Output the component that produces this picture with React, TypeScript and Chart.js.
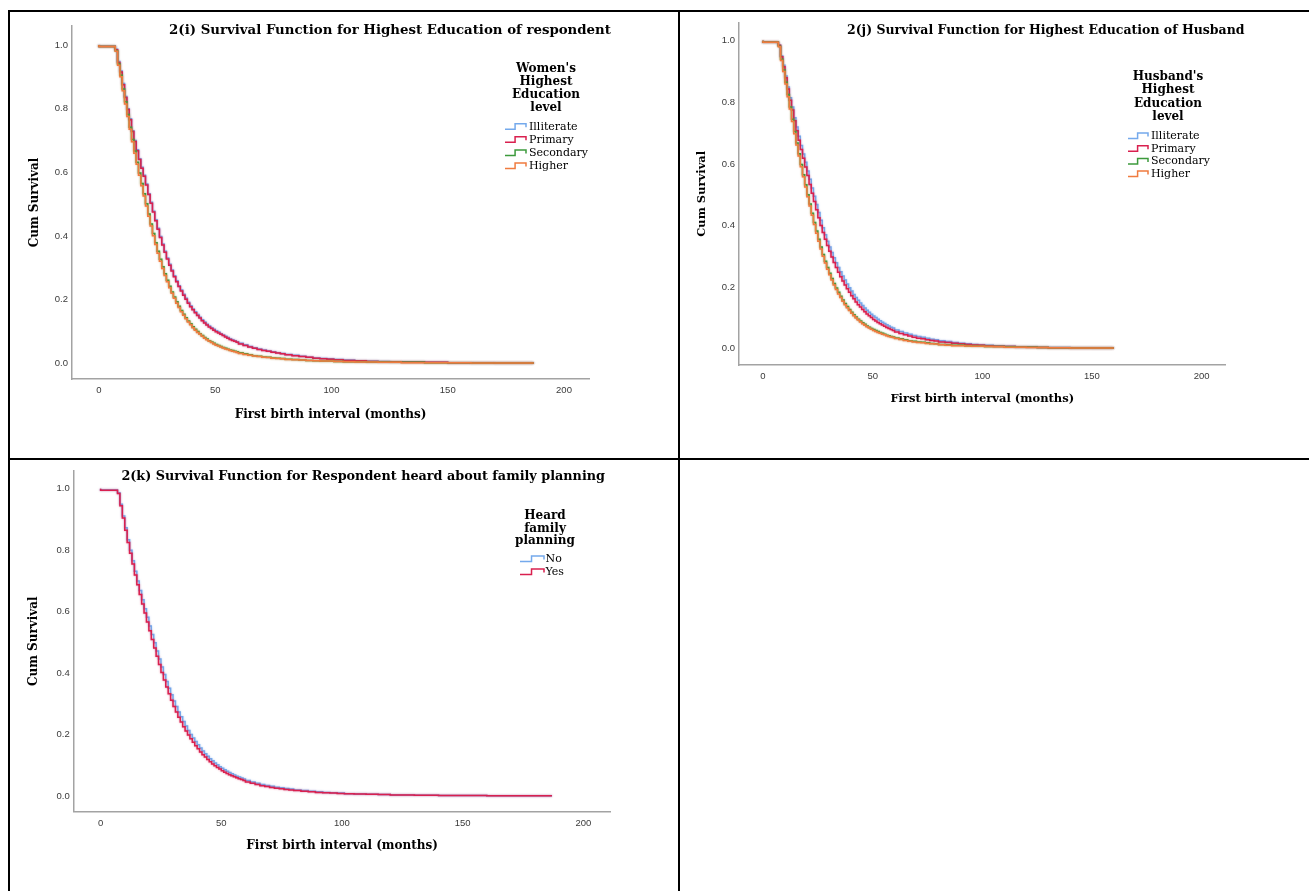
import React, { useEffect, useRef } from 'react';
import { Chart, registerables } from 'chart.js';

Chart.register(...registerables);

// ---------------- DATA ----------------
const X_TICKS = [0, 50, 100, 150, 200];
const Y_TICKS = [0, 0.2, 0.4, 0.6, 0.8, 1.0];

const X_TITLE = 'First birth interval (months)';
const Y_TITLE = 'Cum Survival';

const EDU_LEVELS = ['Illiterate', 'Primary', 'Secondary', 'Higher'];
const FP_LEVELS = ['No', 'Yes'];

// Event times (months) of the Kaplan-Meier steps
const MONTHS_A = [0, 7, 8, 9, 10, 11, 12, 13, 14, 15, 16, 17, 18, 19, 20, 21, 22, 23, 24, 25, 26, 27, 28, 29, 30,
  31, 32, 33, 34, 35, 36, 37, 38, 39, 40, 41, 42, 43, 44, 45, 46, 47, 48,
  49, 50, 51, 52, 53, 54, 55, 56, 57, 58, 59, 60,
  62, 64, 66, 68, 70, 72, 74, 76, 78, 80,
  83, 86, 89, 92, 95, 98, 101,
  105, 110, 115, 120, 125, 130,
  140, 150, 160,
  170, 187];
const MONTHS_B = [0, 7, 8, 9, 10, 11, 12, 13, 14, 15, 16, 17, 18, 19, 20, 21, 22, 23, 24, 25, 26, 27, 28, 29, 30,
  31, 32, 33, 34, 35, 36, 37, 38, 39, 40, 41, 42, 43, 44, 45, 46, 47, 48,
  49, 50, 51, 52, 53, 54, 55, 56, 57, 58, 59, 60,
  62, 64, 66, 68, 70, 72, 74, 76, 78, 80,
  83, 86, 89, 92, 95, 98, 101,
  105, 110, 115, 120, 125, 130,
  140, 150, 160];

// 2(i) Women's highest education
const W_ILLITERATE = [1.000, 0.996, 0.987, 0.948, 0.918, 0.879, 0.838, 0.800, 0.768, 0.731, 0.700, 0.671, 0.643, 0.616,
  0.591, 0.563, 0.533, 0.506, 0.478, 0.451, 0.424, 0.398, 0.375, 0.352, 0.331, 0.311, 0.293, 0.275, 0.259, 0.244, 0.230,
  0.217, 0.204, 0.192, 0.181, 0.171, 0.162, 0.153, 0.145, 0.137, 0.130, 0.123, 0.117,
  0.112, 0.107, 0.102, 0.098, 0.093, 0.089, 0.085, 0.081, 0.077, 0.074, 0.071, 0.068,
  0.063, 0.058, 0.053, 0.049, 0.045, 0.042, 0.039, 0.036, 0.033, 0.031,
  0.028, 0.025, 0.022, 0.019, 0.017, 0.015, 0.014,
  0.012, 0.010, 0.008, 0.007, 0.006, 0.005,
  0.004, 0.003, 0.002,
  0.002, 0.001];
const W_PRIMARY = [1.000, 0.995, 0.985, 0.945, 0.915, 0.875, 0.835, 0.797, 0.765, 0.728, 0.697, 0.668, 0.640, 0.613,
  0.588, 0.560, 0.530, 0.503, 0.475, 0.448, 0.421, 0.395, 0.372, 0.349, 0.328, 0.308, 0.290, 0.272, 0.256, 0.241, 0.227,
  0.214, 0.201, 0.189, 0.178, 0.168, 0.159, 0.150, 0.142, 0.134, 0.127, 0.120, 0.114,
  0.109, 0.104, 0.099, 0.095, 0.091, 0.087, 0.083, 0.079, 0.075, 0.072, 0.069, 0.066,
  0.061, 0.056, 0.051, 0.047, 0.043, 0.040, 0.038, 0.035, 0.032, 0.030,
  0.027, 0.024, 0.021, 0.019, 0.016, 0.014, 0.013,
  0.011, 0.009, 0.008, 0.006, 0.005, 0.005,
  0.004, 0.003, 0.002,
  0.002, 0.001];
const W_SECONDARY = [1.000, 0.995, 0.982, 0.940, 0.905, 0.862, 0.822, 0.782, 0.742, 0.703, 0.667, 0.632, 0.598, 0.565,
  0.533, 0.501, 0.469, 0.438, 0.408, 0.379, 0.352, 0.327, 0.303, 0.281, 0.261, 0.242, 0.224, 0.208, 0.193, 0.179, 0.166,
  0.154, 0.143, 0.133, 0.124, 0.115, 0.107, 0.100, 0.093, 0.087, 0.081, 0.076, 0.071,
  0.067, 0.063, 0.059, 0.056, 0.053, 0.050, 0.047, 0.044, 0.042, 0.040, 0.038, 0.036,
  0.033, 0.030, 0.027, 0.024, 0.022, 0.020, 0.019, 0.017, 0.016, 0.015,
  0.013, 0.012, 0.010, 0.009, 0.008, 0.007, 0.007,
  0.006, 0.005, 0.005, 0.004, 0.004, 0.003,
  0.003, 0.002, 0.002,
  0.001, 0.001];
const W_HIGHER = [1.000, 0.995, 0.980, 0.936, 0.900, 0.856, 0.815, 0.775, 0.735, 0.696, 0.660, 0.625, 0.591, 0.558,
  0.526, 0.494, 0.462, 0.431, 0.401, 0.373, 0.346, 0.321, 0.298, 0.276, 0.256, 0.237, 0.220, 0.204, 0.189, 0.175, 0.162,
  0.151, 0.140, 0.130, 0.121, 0.112, 0.104, 0.097, 0.091, 0.085, 0.079, 0.074, 0.069,
  0.065, 0.061, 0.057, 0.054, 0.051, 0.048, 0.045, 0.043, 0.040, 0.038, 0.036, 0.034,
  0.031, 0.028, 0.025, 0.023, 0.021, 0.019, 0.018, 0.016, 0.015, 0.014,
  0.012, 0.011, 0.010, 0.009, 0.008, 0.007, 0.007,
  0.006, 0.005, 0.004, 0.004, 0.003, 0.003,
  0.002, 0.002, 0.002,
  0.001, 0.001];

// 2(j) Husband's highest education
const H_ILLITERATE = [1, 0.995, 0.985, 0.950, 0.920, 0.885, 0.850, 0.815, 0.785, 0.750, 0.720, 0.690, 0.660, 0.632,
  0.605, 0.577, 0.550, 0.522, 0.495, 0.468, 0.442, 0.417, 0.393, 0.370, 0.349, 0.330, 0.312, 0.295, 0.279, 0.264, 0.250,
  0.236, 0.223, 0.210, 0.198, 0.187, 0.176, 0.166, 0.157, 0.148, 0.140, 0.132, 0.125,
  0.118, 0.112, 0.106, 0.101, 0.096, 0.091, 0.086, 0.082, 0.078, 0.074, 0.070, 0.067,
  0.061, 0.056, 0.051, 0.047, 0.043, 0.040, 0.037, 0.034, 0.031, 0.029,
  0.026, 0.023, 0.020, 0.018, 0.016, 0.014, 0.013,
  0.011, 0.009, 0.008, 0.006, 0.006, 0.005,
  0.004, 0.003, 0.002];
const H_PRIMARY = [1, 0.995, 0.985, 0.948, 0.915, 0.880, 0.843, 0.807, 0.775, 0.740, 0.708, 0.677, 0.647, 0.618,
  0.590, 0.562, 0.533, 0.505, 0.478, 0.451, 0.425, 0.400, 0.377, 0.355, 0.335, 0.316, 0.298, 0.280, 0.264, 0.248, 0.234,
  0.220, 0.207, 0.195, 0.183, 0.172, 0.162, 0.152, 0.143, 0.135, 0.127, 0.120, 0.113,
  0.107, 0.101, 0.095, 0.090, 0.085, 0.081, 0.077, 0.073, 0.069, 0.066, 0.062, 0.059,
  0.054, 0.049, 0.045, 0.041, 0.037, 0.034, 0.032, 0.029, 0.027, 0.025,
  0.022, 0.020, 0.018, 0.016, 0.014, 0.012, 0.011,
  0.010, 0.008, 0.007, 0.005, 0.005, 0.004,
  0.003, 0.002, 0.002];
const H_SECONDARY = [1, 0.995, 0.982, 0.940, 0.905, 0.865, 0.825, 0.785, 0.745, 0.705, 0.668, 0.633, 0.598, 0.565,
  0.532, 0.500, 0.470, 0.440, 0.410, 0.382, 0.355, 0.330, 0.306, 0.284, 0.264, 0.245, 0.228, 0.212, 0.197, 0.183, 0.170,
  0.158, 0.147, 0.137, 0.127, 0.118, 0.110, 0.103, 0.096, 0.090, 0.084, 0.079, 0.074,
  0.070, 0.066, 0.062, 0.059, 0.056, 0.053, 0.050, 0.047, 0.044, 0.042, 0.040, 0.038,
  0.035, 0.032, 0.029, 0.026, 0.024, 0.022, 0.021, 0.019, 0.017, 0.016,
  0.014, 0.013, 0.011, 0.011, 0.010, 0.009, 0.008,
  0.007, 0.007, 0.006, 0.005, 0.005, 0.004,
  0.003, 0.002, 0.002];
const H_HIGHER = [1, 0.995, 0.980, 0.936, 0.900, 0.859, 0.818, 0.778, 0.738, 0.698, 0.661, 0.626, 0.591, 0.558,
  0.525, 0.493, 0.463, 0.433, 0.403, 0.375, 0.349, 0.324, 0.300, 0.278, 0.258, 0.240, 0.223, 0.207, 0.192, 0.178, 0.166,
  0.154, 0.143, 0.133, 0.124, 0.115, 0.107, 0.100, 0.093, 0.087, 0.081, 0.076, 0.071,
  0.067, 0.063, 0.059, 0.056, 0.053, 0.050, 0.047, 0.045, 0.042, 0.040, 0.038, 0.036,
  0.033, 0.030, 0.027, 0.024, 0.022, 0.020, 0.019, 0.017, 0.016, 0.015,
  0.013, 0.011, 0.010, 0.010, 0.009, 0.008, 0.008,
  0.007, 0.006, 0.005, 0.005, 0.004, 0.004,
  0.003, 0.002, 0.002];

// 2(k) Heard about family planning
const FP_NO = [1, 0.996, 0.987, 0.950, 0.912, 0.873, 0.834, 0.800, 0.766, 0.732, 0.700, 0.669, 0.639, 0.610,
  0.582, 0.554, 0.526, 0.499, 0.472, 0.446, 0.420, 0.396, 0.373, 0.351, 0.330, 0.310, 0.292, 0.274, 0.258, 0.243, 0.228,
  0.214, 0.201, 0.189, 0.178, 0.167, 0.157, 0.147, 0.138, 0.130, 0.122, 0.115, 0.108,
  0.102, 0.096, 0.091, 0.086, 0.081, 0.077, 0.073, 0.069, 0.065, 0.062, 0.059, 0.056,
  0.051, 0.046, 0.042, 0.038, 0.035, 0.032, 0.029, 0.027, 0.025, 0.023,
  0.020, 0.018, 0.016, 0.014, 0.012, 0.011, 0.010,
  0.008, 0.007, 0.006, 0.005, 0.004, 0.004,
  0.003, 0.002, 0.002,
  0.001, 0.001];
const FP_YES = [1, 0.995, 0.985, 0.945, 0.905, 0.865, 0.825, 0.790, 0.755, 0.720, 0.688, 0.656, 0.625, 0.596,
  0.567, 0.538, 0.510, 0.482, 0.455, 0.428, 0.402, 0.378, 0.355, 0.333, 0.312, 0.292, 0.274, 0.257, 0.241, 0.226, 0.212,
  0.199, 0.187, 0.175, 0.164, 0.154, 0.144, 0.135, 0.127, 0.119, 0.112, 0.105, 0.099,
  0.093, 0.088, 0.083, 0.078, 0.074, 0.070, 0.066, 0.063, 0.060, 0.057, 0.054, 0.051,
  0.046, 0.042, 0.038, 0.034, 0.031, 0.028, 0.026, 0.024, 0.022, 0.020,
  0.018, 0.016, 0.014, 0.012, 0.011, 0.010, 0.009,
  0.008, 0.007, 0.006, 0.005, 0.004, 0.004,
  0.003, 0.002, 0.002,
  0.001, 0.001];

const TITLE_I = '2(i) Survival Function for Highest Education of respondent';
const TITLE_J = '2(j) Survival Function for Highest Education of Husband';
const TITLE_K = '2(k) Survival Function for Respondent heard about family planning';
const LEGEND_I = ["Women's", 'Highest', 'Education', 'level'];
const LEGEND_J = ["Husband's", 'Highest', 'Education', 'level'];
const LEGEND_K = ['Heard', 'family', 'planning'];

// ---------------- STYLE ----------------
const COLORS = ['#74a9ec', '#d9204f', '#3c9a3c', '#f07b3f'];
const FP_COLORS = ['#74a9ec', '#d9204f'];
const SERIF = '"DejaVu Serif", serif';
const SANS = '"Liberation Sans", Arial, sans-serif';

function withAlpha(hex: string, a: number) {
  const h = hex.replace('#', '');
  const r = parseInt(h.slice(0, 2), 16);
  const g = parseInt(h.slice(2, 4), 16);
  const b = parseInt(h.slice(4, 6), 16);
  return `rgba(${r},${g},${b},${a})`;
}

const haloPlugin = {
  id: 'halo',
  beforeDatasetDraw(chart: any, args: any) {
    const ctx = chart.ctx;
    const ds = chart.data.datasets[args.index];
    ctx.save();
    ctx.shadowColor = withAlpha(ds.borderColor, 0.55);
    ctx.shadowBlur = 2;
  },
  afterDatasetDraw(chart: any) {
    chart.ctx.restore();
  },
};

const overlayPlugin = {
  id: 'overlay',
  afterDraw(chart: any, _args: any, o: any) {
    const ctx = chart.ctx;
    ctx.save();
    ctx.fillStyle = '#000';
    ctx.textBaseline = 'middle';
    // chart title, fitted to the width it has in the reference
    ctx.font = `bold 12px ${SERIF}`;
    const w = ctx.measureText(o.title).width;
    const size = 12 * o.titleWidth / w;
    ctx.font = `bold ${size}px ${SERIF}`;
    ctx.textAlign = 'center';
    ctx.fillText(o.title, o.titleX, o.titleY);
    // legend title
    ctx.font = `bold ${o.legendTitleSize}px ${SERIF}`;
    const lines = o.legendTitle;
    for (let i = 0; i < lines.length; i++) {
      ctx.fillText(lines[i], o.legendX, o.legendTitleY + i * o.legendTitleGap);
    }
    // legend items
    const ds = chart.data.datasets;
    for (let i = 0; i < ds.length; i++) {
      const y = o.itemY + i * o.itemGap;
      const x0 = o.iconX;
      const iw = o.iconW;
      ctx.strokeStyle = ds[i].borderColor;
      ctx.lineWidth = 1.5;
      ctx.beginPath();
      ctx.moveTo(x0, y + 2.5);
      ctx.lineTo(x0 + iw * 0.48, y + 2.5);
      ctx.lineTo(x0 + iw * 0.48, y - 3);
      ctx.lineTo(x0 + iw, y - 3);
      ctx.lineTo(x0 + iw, y + 0.5);
      ctx.stroke();
      ctx.font = `${o.itemSize}px ${SERIF}`;
      ctx.textAlign = 'left';
      ctx.fillText(ds[i].label, o.textX, y);
    }
    ctx.restore();
  },
};

function KMChart({ cfg }: { cfg: any }) {
  const ref = useRef<HTMLCanvasElement | null>(null);
  useEffect(() => {
    if (!ref.current) return;
    const n = cfg.series.length;
    const chart = new Chart(ref.current, {
      type: 'line',
      data: {
        datasets: cfg.series.map((s: any, i: number) => ({
          label: s.label,
          data: s.values.map((v: number, j: number) => ({ x: cfg.months[j], y: v })),
          borderColor: s.color,
          backgroundColor: s.color,
          borderWidth: 1.5,
          pointRadius: 0,
          stepped: 'after',
          fill: false,
          order: n - 1 - i,
        })),
      },
      options: {
        animation: false,
        responsive: true,
        maintainAspectRatio: false,
        devicePixelRatio: 1,
        layout: { padding: { top: cfg.padTop, right: cfg.padRight, left: 0, bottom: 0 } },
        plugins: {
          legend: { display: false },
          tooltip: { enabled: false },
          overlay: cfg.overlay,
        } as any,
        scales: {
          x: {
            type: 'linear',
            min: cfg.xMin,
            max: cfg.xMax,
            afterBuildTicks: (s: any) => { s.ticks = X_TICKS.map((v) => ({ value: v })); },
            afterFit: (s: any) => { s.height = cfg.xAxisH; },
            grid: { display: false, drawTicks: false },
            border: { display: true, color: '#a3a3a3', width: 1.5 },
            ticks: {
              font: { family: SANS, size: 9.5 },
              color: '#3a3a3a',
              padding: 6,
              maxRotation: 0,
              autoSkip: false,
              callback: (v: any) => String(v),
            },
            title: {
              display: true,
              text: X_TITLE,
              color: '#000',
              font: { family: SERIF, size: cfg.axisTitleSize, weight: 'bold' },
              padding: { top: 0, bottom: cfg.xTitlePad },
            },
          },
          y: {
            type: 'linear',
            min: cfg.yMin,
            max: cfg.yMax,
            afterBuildTicks: (s: any) => { s.ticks = Y_TICKS.map((v) => ({ value: v })); },
            afterFit: (s: any) => { s.width = cfg.yAxisW; },
            grid: { display: false, drawTicks: false },
            border: { display: true, color: '#a3a3a3', width: 1.5 },
            ticks: {
              font: { family: SANS, size: 9.5 },
              color: '#3a3a3a',
              padding: 4,
              autoSkip: false,
              callback: (v: any) => Number(v).toFixed(1),
            },
            title: {
              display: true,
              text: Y_TITLE,
              color: '#000',
              font: { family: SERIF, size: cfg.axisTitleSize, weight: 'bold' },
              padding: { top: cfg.yTitlePad, bottom: 0 },
            },
          },
        },
      } as any,
      plugins: [haloPlugin, overlayPlugin],
    });
    return () => chart.destroy();
  }, [cfg]);
  return (
    <div style={{ position: 'absolute', left: cfg.left, top: cfg.top, width: cfg.width, height: cfg.height }}>
      <canvas ref={ref} />
    </div>
  );
}

const CHART_I = {
  left: 10, top: 12, width: 668, height: 446,
  months: MONTHS_A,
  series: [
    { label: EDU_LEVELS[0], values: W_ILLITERATE, color: COLORS[0] },
    { label: EDU_LEVELS[1], values: W_PRIMARY, color: COLORS[1] },
    { label: EDU_LEVELS[2], values: W_SECONDARY, color: COLORS[2] },
    { label: EDU_LEVELS[3], values: W_HIGHER, color: COLORS[3] },
  ],
  xMin: -11.6, xMax: 210.75, yMin: -0.0493, yMax: 1.0597,
  padTop: 14, padRight: 89, yAxisW: 62, xAxisH: 79,
  yTitlePad: 17.2, xTitlePad: 36.2, axisTitleSize: 12,
  overlay: {
    title: TITLE_I, titleX: 380, titleY: 19, titleWidth: 442,
    legendTitle: LEGEND_I, legendX: 536, legendTitleY: 57, legendTitleGap: 13, legendTitleSize: 12,
    itemY: 114.7, itemGap: 13.1, iconX: 495, iconW: 21, textX: 519, itemSize: 11,
  },
};

const CHART_J = {
  left: 680, top: 12, width: 629, height: 446,
  months: MONTHS_B,
  series: [
    { label: EDU_LEVELS[0], values: H_ILLITERATE, color: COLORS[0] },
    { label: EDU_LEVELS[1], values: H_PRIMARY, color: COLORS[1] },
    { label: EDU_LEVELS[2], values: H_SECONDARY, color: COLORS[2] },
    { label: EDU_LEVELS[3], values: H_HIGHER, color: COLORS[3] },
  ],
  xMin: -10.95, xMax: 210.9, yMin: -0.0529, yMax: 1.0584,
  padTop: 10.7, padRight: 83.5, yAxisW: 59, xAxisH: 93,
  yTitlePad: 15.2, xTitlePad: 52.5, axisTitleSize: 11.5,
  overlay: {
    title: TITLE_J, titleX: 365.75, titleY: 19, titleWidth: 398,
    legendTitle: LEGEND_J, legendX: 488, legendTitleY: 65, legendTitleGap: 13.3, legendTitleSize: 12,
    itemY: 124, itemGap: 12.7, iconX: 448, iconW: 20, textX: 471, itemSize: 11,
  },
};

const CHART_K = {
  left: 10, top: 461, width: 668, height: 430,
  months: MONTHS_A,
  series: [
    { label: FP_LEVELS[0], values: FP_NO, color: FP_COLORS[0] },
    { label: FP_LEVELS[1], values: FP_YES, color: FP_COLORS[1] },
  ],
  xMin: -11.15, xMax: 211.3, yMin: -0.0506, yMax: 1.059,
  padTop: 6.7, padRight: 67.4, yAxisW: 63.7, xAxisH: 79.3,
  yTitlePad: 16.2, xTitlePad: 37.5, axisTitleSize: 12,
  overlay: {
    title: TITLE_K, titleX: 353.2, titleY: 15.7, titleWidth: 484,
    legendTitle: LEGEND_K, legendX: 535, legendTitleY: 54.7, legendTitleGap: 12.7, legendTitleSize: 12,
    itemY: 98, itemGap: 13, iconX: 510, iconW: 24, textX: 535.5, itemSize: 11,
  },
};

const line = (left: number, top: number, width: number, height: number) => (
  <div style={{ position: 'absolute', left, top, width, height, background: '#000' }} />
);

export default function App() {
  return (
    <div style={{ position: 'absolute', left: 0, top: 0, width: 1309, height: 891, overflow: 'hidden', background: '#fff' }}>
      <KMChart cfg={CHART_I} />
      <KMChart cfg={CHART_J} />
      <KMChart cfg={CHART_K} />
      {line(8, 10, 1301, 2)}
      {line(8, 10, 2, 881)}
      {line(678, 10, 2, 881)}
      {line(8, 458, 1301, 2)}
    </div>
  );
}
